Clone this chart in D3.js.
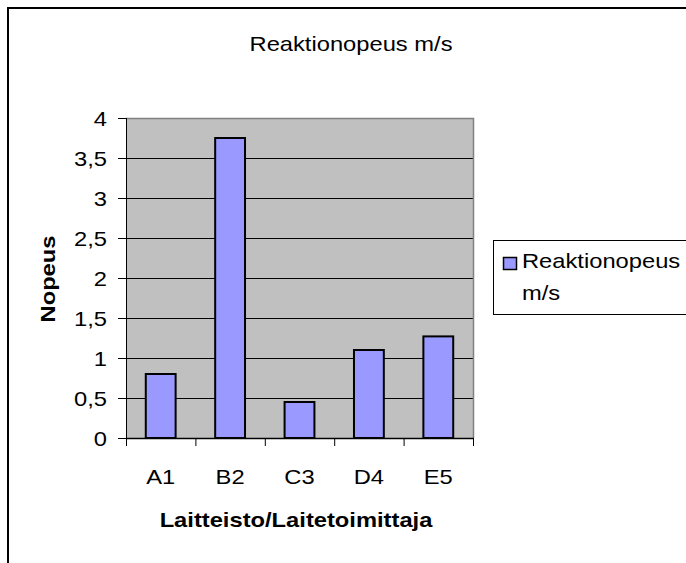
<!DOCTYPE html>
<html>
<head>
<meta charset="utf-8">
<script src="https://cdn.jsdelivr.net/npm/d3@7"></script>
<style>
  body { margin: 0; background: #fff; }
  svg { display: block; font-family: "Liberation Sans", Arial, sans-serif; }
</style>
</head>
<body>
<script>
const categories = ["A1", "B2", "C3", "D4", "E5"];
const values = [0.8, 3.75, 0.45, 1.1, 1.27];
const yTicks = [0, 0.5, 1, 1.5, 2, 2.5, 3, 3.5, 4];
const seriesName = ["Reaktionopeus", "m/s"];
const title = "Reaktionopeus m/s";
const xTitle = "Laitteisto/Laitetoimittaja";
const yTitle = "Nopeus";

const W = 686, H = 563;
const plot = {left: 126, right: 473, top: 118, bottom: 438};
const fs = 21, sx = 1.13;
const fmt = d => String(d).replace(".", ",");

const svg = d3.select("body").append("svg")
    .attr("width", W)
    .attr("height", H);

// outer chart frame (cut off at right and bottom)
svg.append("rect")
    .attr("x", 8).attr("y", 8)
    .attr("width", W + 20).attr("height", H + 20)
    .attr("fill", "#fff")
    .attr("stroke", "#000")
    .attr("stroke-width", 2);

const x = d3.scaleBand()
    .domain(categories)
    .range([plot.left, plot.right])
    .paddingInner(0.57)
    .paddingOuter(0.285);

const y = d3.scaleLinear()
    .domain([0, 4])
    .range([plot.bottom, plot.top]);

// helper for the wide Excel-ish text
function label(g, tx, ty, text, opts = {}) {
  return g.append("text")
      .attr("transform", `translate(${tx},${ty})${opts.rotate ? ` rotate(${opts.rotate})` : ""} scale(${sx},1)`)
      .attr("text-anchor", opts.anchor || "start")
      .attr("font-size", fs)
      .attr("font-weight", opts.bold ? "bold" : "normal")
      .attr("fill", "#000")
      .text(text);
}

// plot background
svg.append("rect")
    .attr("x", plot.left).attr("y", plot.top)
    .attr("width", plot.right - plot.left)
    .attr("height", plot.bottom - plot.top)
    .attr("fill", "#c0c0c0");

// gridlines
svg.append("g")
  .selectAll("line")
  .data(yTicks.slice(1, -1))
  .join("line")
    .attr("x1", plot.left).attr("x2", plot.right)
    .attr("y1", d => y(d) + 0.5).attr("y2", d => y(d) + 0.5)
    .attr("stroke", "#000")
    .attr("stroke-width", 1);

// plot border top / right
svg.append("path")
    .attr("d", `M${plot.left},${plot.top + 0.5}H${plot.right + 0.5}V${plot.bottom}`)
    .attr("fill", "none")
    .attr("stroke", "#808080")
    .attr("stroke-width", 1.5);

// bars
svg.append("g")
  .selectAll("rect")
  .data(values)
  .join("rect")
    .attr("x", (d, i) => x(categories[i]))
    .attr("y", d => y(d))
    .attr("width", x.bandwidth())
    .attr("height", d => y(0) - y(d))
    .attr("fill", "#9999ff")
    .attr("stroke", "#000")
    .attr("stroke-width", 2);

// y axis
const yAxis = svg.append("g");
yAxis.append("line")
    .attr("x1", plot.left + 0.5).attr("x2", plot.left + 0.5)
    .attr("y1", plot.top).attr("y2", plot.bottom)
    .attr("stroke", "#000");
yAxis.selectAll("line.tick")
  .data(yTicks)
  .join("line")
    .attr("class", "tick")
    .attr("x1", plot.left - 8).attr("x2", plot.left)
    .attr("y1", d => y(d) + 0.5).attr("y2", d => y(d) + 0.5)
    .attr("stroke", "#000");
yTicks.forEach(d => label(yAxis, 107, y(d) + 7.5, fmt(d), {anchor: "end"}));

// x axis
const xAxis = svg.append("g");
xAxis.append("line")
    .attr("x1", plot.left).attr("x2", plot.right + 1)
    .attr("y1", plot.bottom + 0.5).attr("y2", plot.bottom + 0.5)
    .attr("stroke", "#000")
    .attr("stroke-width", 1.5);
const bounds = d3.range(categories.length + 1).map(i => plot.left + i * x.step());
xAxis.selectAll("line.tick")
  .data(bounds)
  .join("line")
    .attr("class", "tick")
    .attr("x1", d => d + 0.5).attr("x2", d => d + 0.5)
    .attr("y1", plot.bottom).attr("y2", plot.bottom + 8)
    .attr("stroke", "#000");
categories.forEach(c => label(xAxis, x(c) + x.bandwidth() / 2, 483.5, c, {anchor: "middle"}));

// titles
label(svg, 351, 50.5, title, {anchor: "middle"});
label(svg, 296, 526.5, xTitle, {anchor: "middle", bold: true});
label(svg, 55, 279, yTitle, {anchor: "middle", bold: true, rotate: -90});

// legend
const lg = svg.append("g");
lg.append("rect")
    .attr("x", 493.5).attr("y", 240.5)
    .attr("width", 220).attr("height", 74)
    .attr("fill", "#fff")
    .attr("stroke", "#000")
    .attr("stroke-width", 1);
lg.append("rect")
    .attr("x", 503.5).attr("y", 257.5)
    .attr("width", 13).attr("height", 12)
    .attr("fill", "#9999ff")
    .attr("stroke", "#000")
    .attr("stroke-width", 1.5);
label(lg, 522, 267.5, seriesName[0]);
label(lg, 522, 299.5, seriesName[1]);
</script>
</body>
</html>
